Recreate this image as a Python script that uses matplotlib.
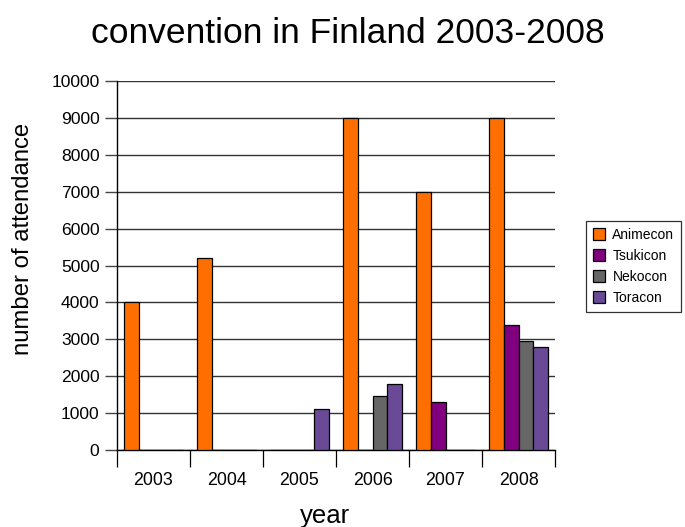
import numpy as np
import matplotlib
matplotlib.use('Agg')
import matplotlib.pyplot as plt

plt.rcParams['font.family'] = ['Liberation Sans', 'DejaVu Sans']

# data
years = ['2003', '2004', '2005', '2006', '2007', '2008']
animecon = [4000, 5200, 0, 9000, 7000, 9000]
tsukicon = [0, 0, 0, 0, 1300, 3400]
nekocon = [0, 0, 0, 1450, 0, 2950]
toracon = [0, 0, 1100, 1800, 0, 2800]

series = [('Animecon', animecon, '#ff6f00'),
          ('Tsukicon', tsukicon, '#800080'),
          ('Nekocon', nekocon, '#666666'),
          ('Toracon', toracon, '#6a4a96')]

W, H = 685, 527
fig = plt.figure(figsize=(W / 100, H / 100), dpi=100)
ax = fig.add_axes([117 / W, 1 - 450 / H, (555 - 117) / W, (450 - 81) / H])

x = np.arange(len(years))
w = 0.2
for i, (name, vals, col) in enumerate(series):
    ax.bar(x + (i - 1.5) * w, vals, w, color=col, edgecolor='black',
           linewidth=0.9, label=name, zorder=3)

ax.set_xlim(-0.5, len(years) - 0.5)
ax.set_ylim(0, 10000)
ax.set_yticks(np.arange(0, 10001, 1000))
ax.yaxis.grid(True, color='#333333', linewidth=1.0, zorder=0)
ax.tick_params(axis='y', direction='out', length=8.6, width=1.0,
               labelsize=12.6, pad=4, color='#444444')

ax.set_xticks(x)
ax.set_xticklabels(years)
ax.set_xticks(np.arange(-0.5, len(years), 1), minor=True)
ax.tick_params(axis='x', which='major', length=0, labelsize=12.8, pad=15.5)
ax.tick_params(axis='x', which='minor', length=12, width=0.9, direction='out')

for s in ['top', 'right']:
    ax.spines[s].set_visible(False)
ax.spines['left'].set_linewidth(1.0)
ax.spines['bottom'].set_linewidth(1.0)

# axis titles and chart title
fig.text(325 / W, 1 - 523 / H, 'year', fontsize=18.5, ha='center', va='baseline')
fig.text(23 / W, 1 - 239 / H, 'number of attendance', fontsize=17.2,
         rotation=90, ha='center', va='center')
fig.text(348 / W, 1 - 43 / H, 'convention in Finland 2003-2008', fontsize=25.5,
         ha='center', va='baseline')

leg = fig.legend(loc='upper left', bbox_to_anchor=(586 / W, 1 - 221 / H),
                 fontsize=10, frameon=True, fancybox=False, edgecolor='black',
                 handlelength=0.9, handleheight=0.9, handletextpad=0.5,
                 borderpad=0.5, labelspacing=0.5, borderaxespad=0)
leg.get_frame().set_linewidth(0.9)

fig.savefig('out.png', dpi=100)
